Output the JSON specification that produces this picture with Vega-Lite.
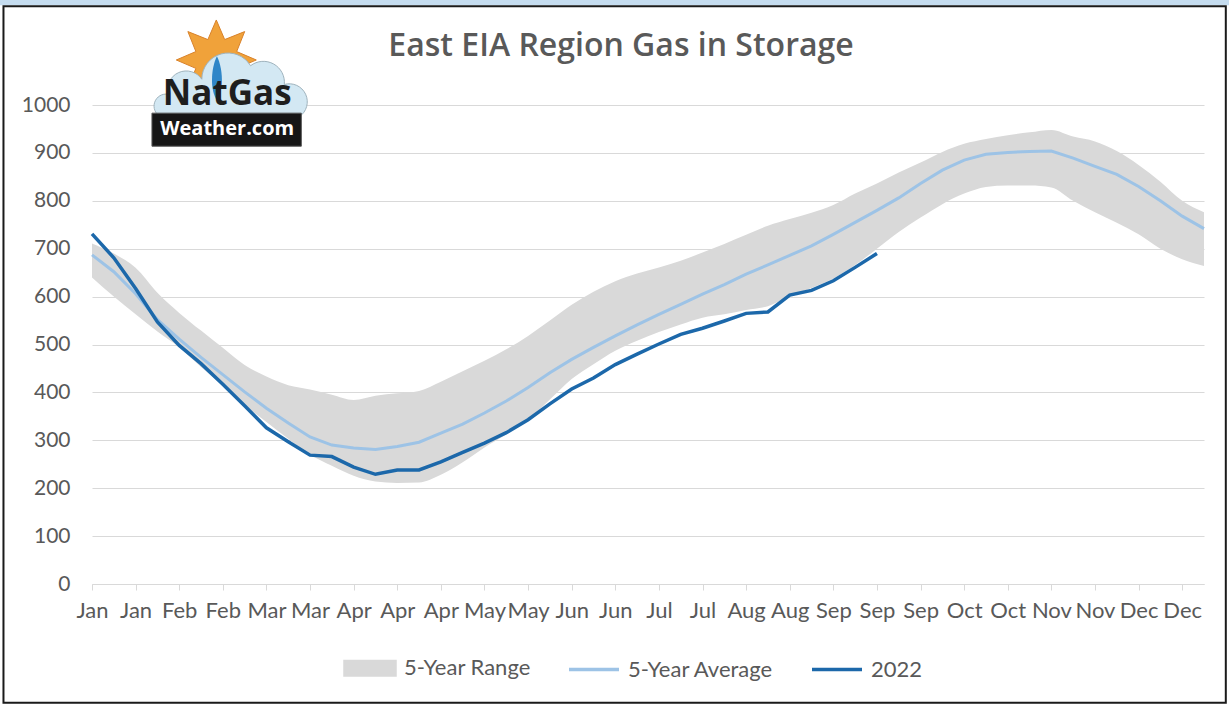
{
  "$schema": "https://vega.github.io/schema/vega-lite/v6.json",
  "autosize": {"type": "none"},
  "width": 1112,
  "height": 479,
  "padding": {"left": 92, "top": 105, "right": 25, "bottom": 121},
  "background": "#ffffff",
  "title": {
    "text": "East EIA Region Gas in Storage",
    "font": "Open Sans",
    "fontSize": 32,
    "fontWeight": 600,
    "color": "#595959",
    "anchor": "middle",
    "dx": -27,
    "offset": -64
  },
  "config": {
    "view": {"stroke": null},
    "font": "Lato"
  },
  "data": {
    "values": [
      {"week": 0, "hi": 711, "lo": 640, "avg": 687, "y2022": 731},
      {"week": 1, "hi": 690, "lo": 600, "avg": 652, "y2022": 681},
      {"week": 2, "hi": 660, "lo": 563, "avg": 606, "y2022": 617},
      {"week": 3, "hi": 608, "lo": 527, "avg": 552, "y2022": 547},
      {"week": 4, "hi": 566, "lo": 494, "avg": 511, "y2022": 498},
      {"week": 5, "hi": 529, "lo": 453, "avg": 473, "y2022": 460},
      {"week": 6, "hi": 493, "lo": 414, "avg": 437, "y2022": 417},
      {"week": 7, "hi": 457, "lo": 374, "avg": 401, "y2022": 372},
      {"week": 8, "hi": 433, "lo": 338, "avg": 367, "y2022": 326},
      {"week": 9, "hi": 415, "lo": 303, "avg": 336, "y2022": 297},
      {"week": 10, "hi": 406, "lo": 270, "avg": 307, "y2022": 269},
      {"week": 11, "hi": 395, "lo": 247, "avg": 290, "y2022": 266},
      {"week": 12, "hi": 384, "lo": 226, "avg": 284, "y2022": 244},
      {"week": 13, "hi": 393, "lo": 214, "avg": 281, "y2022": 229},
      {"week": 14, "hi": 398, "lo": 211, "avg": 287, "y2022": 238},
      {"week": 15, "hi": 403, "lo": 212, "avg": 296, "y2022": 238},
      {"week": 16, "hi": 422, "lo": 228, "avg": 315, "y2022": 255},
      {"week": 17, "hi": 444, "lo": 254, "avg": 334, "y2022": 275},
      {"week": 18, "hi": 466, "lo": 285, "avg": 357, "y2022": 294},
      {"week": 19, "hi": 490, "lo": 312, "avg": 382, "y2022": 316},
      {"week": 20, "hi": 518, "lo": 343, "avg": 410, "y2022": 343},
      {"week": 21, "hi": 550, "lo": 385, "avg": 441, "y2022": 376},
      {"week": 22, "hi": 583, "lo": 428, "avg": 469, "y2022": 407},
      {"week": 23, "hi": 610, "lo": 459, "avg": 494, "y2022": 430},
      {"week": 24, "hi": 632, "lo": 487, "avg": 518, "y2022": 458},
      {"week": 25, "hi": 648, "lo": 508, "avg": 541, "y2022": 480},
      {"week": 26, "hi": 661, "lo": 526, "avg": 563, "y2022": 501},
      {"week": 27, "hi": 675, "lo": 542, "avg": 584, "y2022": 521},
      {"week": 28, "hi": 692, "lo": 556, "avg": 605, "y2022": 534},
      {"week": 29, "hi": 710, "lo": 563, "avg": 625, "y2022": 549},
      {"week": 30, "hi": 729, "lo": 572, "avg": 647, "y2022": 565},
      {"week": 31, "hi": 748, "lo": 580, "avg": 666, "y2022": 568},
      {"week": 32, "hi": 762, "lo": 600, "avg": 686, "y2022": 603},
      {"week": 33, "hi": 775, "lo": 618, "avg": 706, "y2022": 613},
      {"week": 34, "hi": 791, "lo": 638, "avg": 730, "y2022": 633},
      {"week": 35, "hi": 815, "lo": 666, "avg": 755, "y2022": 661},
      {"week": 36, "hi": 836, "lo": 700, "avg": 780, "y2022": 690},
      {"week": 37, "hi": 859, "lo": 735, "avg": 806, "y2022": null},
      {"week": 38, "hi": 880, "lo": 765, "avg": 836, "y2022": null},
      {"week": 39, "hi": 902, "lo": 793, "avg": 864, "y2022": null},
      {"week": 40, "hi": 919, "lo": 815, "avg": 885, "y2022": null},
      {"week": 41, "hi": 929, "lo": 829, "avg": 897, "y2022": null},
      {"week": 42, "hi": 937, "lo": 832, "avg": 901, "y2022": null},
      {"week": 43, "hi": 943, "lo": 832, "avg": 903, "y2022": null},
      {"week": 44, "hi": 948, "lo": 828, "avg": 904, "y2022": null},
      {"week": 45, "hi": 934, "lo": 800, "avg": 889, "y2022": null},
      {"week": 46, "hi": 924, "lo": 776, "avg": 872, "y2022": null},
      {"week": 47, "hi": 904, "lo": 754, "avg": 855, "y2022": null},
      {"week": 48, "hi": 875, "lo": 730, "avg": 830, "y2022": null},
      {"week": 49, "hi": 840, "lo": 700, "avg": 800, "y2022": null},
      {"week": 50, "hi": 800, "lo": 678, "avg": 768, "y2022": null},
      {"week": 51, "hi": 776, "lo": 664, "avg": 742, "y2022": null}
    ]
  },
  "layer": [
    {
      "transform": [{"filter": "datum.week === 0"}],
      "mark": {"type": "rect", "fill": "#c5dcef", "strokeWidth": 0},
      "encoding": {
        "x": {"datum": -4.3, "type": "quantitative"},
        "x2": {"datum": 52.4},
        "y": {"datum": 1222, "type": "quantitative"},
        "y2": {"datum": 1208}
      }
    },
    {
      "transform": [{"filter": "datum.week === 0"}],
      "mark": {"type": "rect", "filled": false, "stroke": "#1a1a1a", "strokeWidth": 2},
      "encoding": {
        "x": {"datum": -4.06, "type": "quantitative"},
        "x2": {"datum": 52.0},
        "y": {"datum": 1206, "type": "quantitative"},
        "y2": {"datum": -248}
      }
    },
    {
      "mark": {"type": "area", "interpolate": "monotone"},
      "encoding": {
        "x": {
          "field": "week",
          "type": "quantitative",
          "scale": {"domain": [0, 51], "nice": false, "zero": false},
          "axis": {
            "title": null,
            "values": [0, 2, 4, 6, 8, 10, 12, 14, 16, 18, 20, 22, 24, 26, 28, 30, 32, 34, 36, 38, 40, 42, 44, 46, 48, 50],
            "labelExpr": "['Jan','Jan','Feb','Feb','Mar','Mar','Apr','Apr','Apr','May','May','Jun','Jun','Jul','Jul','Aug','Aug','Sep','Sep','Sep','Oct','Oct','Nov','Nov','Dec','Dec'][round(datum.value / 2)]",
            "grid": false,
            "domainColor": "#d9d9d9",
            "domainWidth": 1,
            "tickColor": "#d9d9d9",
            "tickSize": 6,
            "labelPadding": 10,
            "labelFont": "Lato",
            "labelFontSize": 22,
            "labelColor": "#595959",
            "labelOverlap": false,
            "labelBound": false,
            "labelFlush": false
          }
        },
        "y": {
          "field": "hi",
          "type": "quantitative",
          "scale": {"domain": [0, 1000], "nice": false},
          "axis": {
            "title": null,
            "values": [0, 100, 200, 300, 400, 500, 600, 700, 800, 900, 1000],
            "format": "d",
            "grid": true,
            "gridColor": "#d9d9d9",
            "gridWidth": 1,
            "domain": false,
            "ticks": false,
            "labelPadding": 22,
            "labelFont": "Lato",
            "labelFontSize": 21,
            "labelColor": "#595959"
          }
        },
        "y2": {"field": "lo"},
        "color": {
          "datum": "5-Year Range",
          "type": "nominal",
          "scale": {
            "domain": ["5-Year Range", "5-Year Average", "2022"],
            "range": ["#d9d9d9", "#9dc3e6", "#1c68aa"]
          },
          "legend": {
            "title": null,
            "orient": "none",
            "legendX": 251,
            "legendY": 536,
            "direction": "horizontal",
            "symbolSize": 2500,
            "labelOffset": 7,
            "columnPadding": 31,
            "labelFont": "Lato",
            "labelFontSize": 22,
            "labelColor": "#595959",
            "encode": {
              "symbols": {
                "update": {
                  "shape": {"signal": "datum.label === '5-Year Range' ? 'M-1,-0.27H1V0.27H-1Z' : 'M-1,0H1'"},
                  "fill": {"signal": "datum.label === '5-Year Range' ? '#d9d9d9' : 'transparent'"},
                  "stroke": {"signal": "datum.label === '5-Year Range' ? 'transparent' : (datum.label === '2022' ? '#1c68aa' : '#9dc3e6')"},
                  "strokeWidth": {"value": 3.5},
                  "opacity": {"value": 1},
                  "fillOpacity": {"value": 1},
                  "strokeOpacity": {"value": 1}
                }
              }
            }
          }
        }
      }
    },
    {
      "mark": {"type": "line", "strokeWidth": 3},
      "encoding": {
        "x": {"field": "week", "type": "quantitative"},
        "y": {"field": "avg", "type": "quantitative"},
        "color": {"datum": "5-Year Average", "type": "nominal"}
      }
    },
    {
      "mark": {"type": "line", "strokeWidth": 3.5},
      "encoding": {
        "x": {"field": "week", "type": "quantitative"},
        "y": {"field": "y2022", "type": "quantitative"},
        "color": {"datum": "2022", "type": "nominal"}
      }
    },
    {
      "transform": [{"filter": "datum.week === 0"}],
      "mark": {"type": "point", "filled": true, "opacity": 1, "fill": "#f0a23a", "stroke": "#d9822b", "strokeWidth": 1, "size": 6400, "shape": "M0,-1L0.21,-0.51L0.71,-0.71L0.51,-0.21L1,0L0.51,0.21L0.71,0.71L0.21,0.51L0,1L-0.21,0.51L-0.71,0.71L-0.51,0.21L-1,0L-0.51,-0.21L-0.71,-0.71L-0.21,-0.51Z"},
      "encoding": {
        "x": {"datum": 5.7, "type": "quantitative"},
        "y": {"datum": 1094, "type": "quantitative"}
      }
    },
    {
      "transform": [{"filter": "datum.week === 0"}],
      "mark": {"type": "point", "filled": true, "opacity": 1, "fill": "#d3e8f3", "stroke": "#9fb3bd", "strokeWidth": 1, "size": 22500, "shape": "M-0.9,0.38A0.16,0.16 0 0 1 -0.8,0.08A0.25,0.25 0 0 1 -0.35,-0.12A0.35,0.35 0 0 1 0.3,-0.3A0.28,0.28 0 0 1 0.75,-0.05A0.24,0.24 0 0 1 0.95,0.38Z"},
      "encoding": {
        "x": {"datum": 6.24, "type": "quantitative"},
        "y": {"datum": 1035, "type": "quantitative"}
      }
    },
    {
      "transform": [{"filter": "datum.week === 0"}],
      "mark": {"type": "point", "filled": true, "opacity": 1, "fill": "#2f86c8", "size": 1936, "shape": "M0,-1C0.3,-0.4 0.3,0.6 0,1C-0.3,0.6 -0.3,-0.4 0,-1Z"},
      "encoding": {
        "x": {"datum": 5.73, "type": "quantitative"},
        "y": {"datum": 1056, "type": "quantitative"}
      }
    },
    {
      "transform": [{"filter": "datum.week === 0"}],
      "mark": {"type": "rect", "fill": "#161616", "stroke": "#555555", "strokeWidth": 1},
      "encoding": {
        "x": {"datum": 2.75, "type": "quantitative"},
        "x2": {"datum": 9.6},
        "y": {"datum": 983, "type": "quantitative"},
        "y2": {"datum": 914}
      }
    },
    {
      "transform": [{"filter": "datum.week === 0"}],
      "mark": {"type": "text", "text": "Weather.com", "font": "Open Sans", "fontWeight": "bold", "fontSize": 20, "fill": "#ffffff", "align": "center", "baseline": "middle"},
      "encoding": {
        "x": {"datum": 6.2, "type": "quantitative"},
        "y": {"datum": 949, "type": "quantitative"}
      }
    },
    {
      "transform": [{"filter": "datum.week === 0"}],
      "mark": {"type": "text", "text": "NatGas", "font": "Open Sans", "fontWeight": "bold", "fontSize": 35, "fill": "#1e1e1e", "align": "center", "baseline": "alphabetic"},
      "encoding": {
        "x": {"datum": 6.2, "type": "quantitative"},
        "y": {"datum": 1000, "type": "quantitative"}
      }
    }
  ]
}
